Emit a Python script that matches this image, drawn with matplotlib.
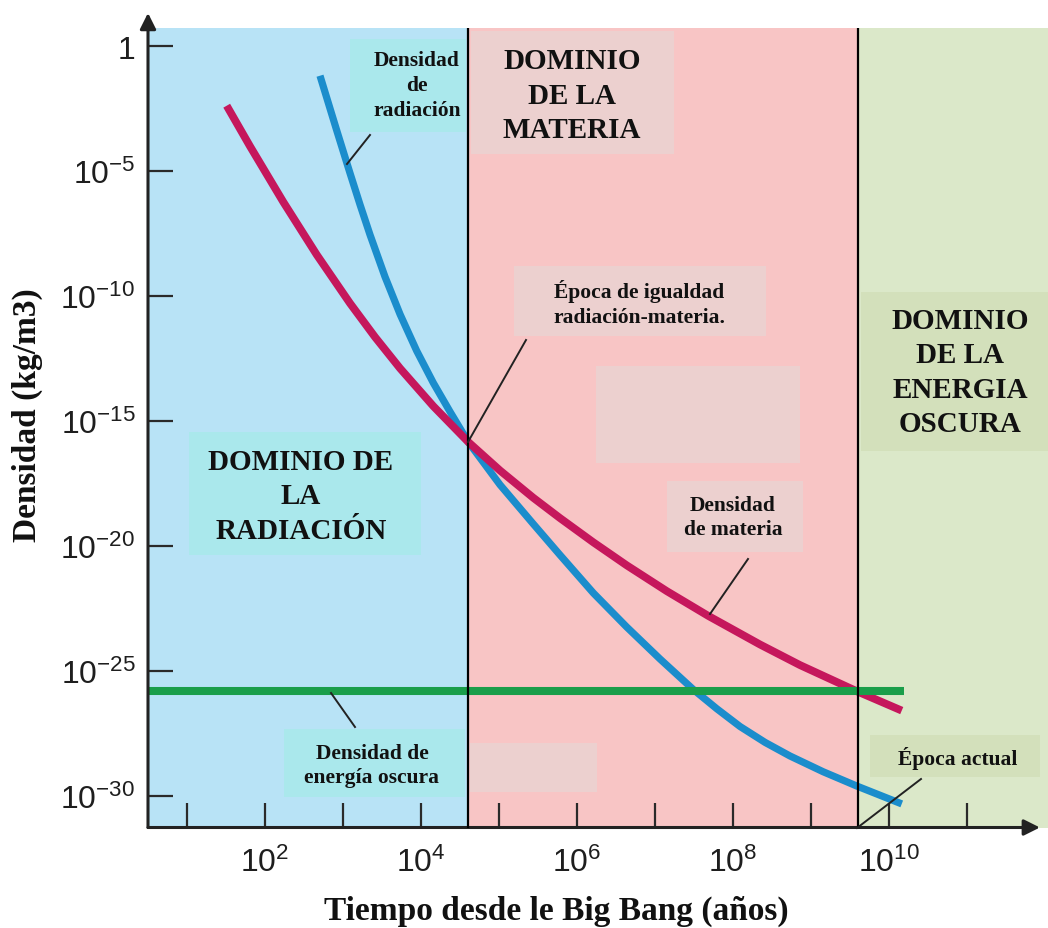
import numpy as np
import matplotlib
matplotlib.use("Agg")
import matplotlib.pyplot as plt
from matplotlib.patches import Rectangle
from matplotlib.lines import Line2D
from matplotlib.ticker import FixedLocator, FuncFormatter, NullLocator

plt.rcParams["font.family"] = "Liberation Sans"
plt.rcParams["mathtext.fontset"] = "custom"
plt.rcParams["mathtext.rm"] = "Liberation Sans"
plt.rcParams["mathtext.default"] = "regular"

# ---- data (log10 of time in years, log10 of density in kg/m3) ----
t_materia_exp = [1.513, 1.812, 2.238, 2.667, 3.094, 3.414, 3.735, 4.162, 4.610,
                 5.017, 5.444, 5.786, 6.213, 6.641, 7.154, 7.687, 8.350, 8.863,
                 9.590, 10.167]
rho_materia_exp = [-2.378, -4.003, -6.229, -8.343, -10.288, -11.637, -12.890,
                   -14.407, -15.841, -16.982, -18.075, -18.887, -19.856, -20.777,
                   -21.809, -22.802, -23.947, -24.772, -25.817, -26.593]

t_radiacion_exp = [2.709, 2.923, 3.094, 3.222, 3.350, 3.542, 3.735, 3.949, 4.162,
                   4.376, 4.610, 5.017, 5.444, 5.786, 6.213, 6.641, 7.068, 7.495,
                   7.795, 8.094, 8.415, 8.735, 9.158, 9.590, 10.167]
rho_radiacion_exp = [-1.177, -3.363, -5.080, -6.337, -7.542, -9.223, -10.725,
                     -12.194, -13.475, -14.628, -15.841, -17.554, -19.123, -20.364,
                     -21.885, -23.247, -24.527, -25.749, -26.517, -27.230, -27.866,
                     -28.411, -29.039, -29.612, -30.328]

rho_oscura_exp = -25.817        # constant dark-energy density
t_oscura_fin_exp = 10.19        # end of the dark-energy line

t_igualdad = 4.0e4              # radiation-matter equality (years)
t_dominio_oscura = 4.0e9        # start of dark-energy domination (years)

x_tick_exp = list(range(1, 12))
x_label_exp = [2, 4, 6, 8, 10]
y_tick_exp = [0, -5, -10, -15, -20, -25, -30]

x_lim_exp = (0.504, 12.042)
y_lim_exp = (-31.273, 0.733)

# ---- figure ----
W, H = 1048, 929
fig = plt.figure(figsize=(W / 100, H / 100), dpi=100)
ax = fig.add_axes([148 / W, 1 - 828.5 / H, 900 / W, 799.5 / H])
ax.set_xscale("log")
ax.set_yscale("log")

xmin, xmax = 10 ** x_lim_exp[0], 10 ** x_lim_exp[1]
ymin, ymax = 10 ** y_lim_exp[0], 10 ** y_lim_exp[1]

# era backgrounds
ax.axvspan(xmin, t_igualdad, color="#b8e3f6", lw=0, zorder=0)
ax.axvspan(t_igualdad, t_dominio_oscura, color="#f8c5c5", lw=0, zorder=0)
ax.axvspan(t_dominio_oscura, xmax, color="#dbe8c9", lw=0, zorder=0)


def fx(x):
    return x / W


def fy(y):
    return 1 - y / H


# label backgrounds (pixel boxes: x0, y0, x1, y1)
boxes = [
    ((350, 40, 466, 133), "#aae8ec"),
    ((471, 32, 674, 155), "#ecd0cf"),
    ((514, 267, 766, 337), "#ecd0cf"),
    ((596, 367, 800, 464), "#ecd0cf"),
    ((861, 293, 1048, 452), "#d3e0bb"),
    ((189, 433, 421, 556), "#aae8ec"),
    ((667, 482, 803, 553), "#ecd0cf"),
    ((284, 730, 465, 798), "#aae8ec"),
    ((470, 744, 597, 793), "#ecd0cf"),
    ((870, 736, 1040, 778), "#d3e0bb"),
]
for (x0, y0, x1, y1), c in boxes:
    ax.add_patch(Rectangle((fx(x0), fy(y1)), (x1 - x0) / W, (y1 - y0) / H,
                           transform=fig.transFigure, facecolor=c, lw=0, zorder=1))

# density curves
t_m = np.power(10.0, t_materia_exp)
r_m = np.power(10.0, rho_materia_exp)
t_r = np.power(10.0, t_radiacion_exp)
r_r = np.power(10.0, rho_radiacion_exp)
ax.plot(t_r, r_r, color="#1b8dcc", lw=5.2, solid_capstyle="butt",
        solid_joinstyle="round", zorder=3)
ax.plot(t_m, r_m, color="#c5175c", lw=5.6, solid_capstyle="butt",
        solid_joinstyle="round", zorder=3)
ax.plot([xmin, 10 ** t_oscura_fin_exp], [10 ** rho_oscura_exp] * 2,
        color="#1a9e4a", lw=5.8, solid_capstyle="butt", zorder=3)

# era boundaries
ax.axvline(t_igualdad, color="black", lw=1.6, zorder=4)
ax.axvline(t_dominio_oscura, color="black", lw=1.6, zorder=4)

# axes, ticks
for s in ax.spines.values():
    s.set_visible(False)
ax.xaxis.set_major_locator(FixedLocator([10.0 ** e for e in x_tick_exp]))
ax.xaxis.set_minor_locator(NullLocator())
ax.yaxis.set_major_locator(FixedLocator([10.0 ** e for e in y_tick_exp]))
ax.yaxis.set_minor_locator(NullLocator())


def xfmt(v, pos):
    e = int(round(np.log10(v)))
    return r"$10^{%d}$" % e if e in x_label_exp else ""


def yfmt(v, pos):
    e = int(round(np.log10(v)))
    return "1" if e == 0 else r"$10^{%d}$" % e


ax.xaxis.set_major_formatter(FuncFormatter(xfmt))
ax.yaxis.set_major_formatter(FuncFormatter(yfmt))
ax.tick_params(axis="both", direction="in", length=18, width=1.6,
               color="#2a2a2a", labelsize=23, labelcolor="#1e1e1e")
ax.tick_params(axis="x", pad=14)
ax.tick_params(axis="y", pad=9)

ax.annotate("", xy=(0, 1.0188), xytext=(0, 0), xycoords="axes fraction",
            arrowprops=dict(arrowstyle="-|>", color="#222222", lw=2.2,
                            mutation_scale=24, shrinkA=0, shrinkB=0),
            annotation_clip=False)
ax.annotate("", xy=(0.991, 0), xytext=(0, 0), xycoords="axes fraction",
            arrowprops=dict(arrowstyle="-|>", color="#222222", lw=2.2,
                            mutation_scale=24, shrinkA=0, shrinkB=0),
            annotation_clip=False)

ax.set_xlim(xmin, xmax)
ax.set_ylim(ymin, ymax)

# pointer lines
pointers = [
    ((370, 136), (347, 165)),
    ((526, 341), (468, 443)),
    ((748, 560), (710, 615)),
    ((331, 694), (355, 728)),
    ((857, 829), (921, 780)),
]
for (xa, ya), (xb, yb) in pointers:
    fig.add_artist(Line2D([fx(xa), fx(xb)], [fy(ya), fy(yb)],
                          transform=fig.transFigure, color="#222222", lw=1.4))

# annotations
serif = "Liberation Serif"
labels = [
    ("Densidad\nde\nradiación", 417, 86, 15.5, 1.36),
    ("DOMINIO\nDE LA\nMATERIA", 572, 96, 21, 1.37),
    ("Época de igualdad\nradiación-materia.", 639, 304, 15.5, 1.32),
    ("DOMINIO\nDE LA\nENERGIA\nOSCURA", 960, 373, 21, 1.35),
    ("DOMINIO DE\nLA\nRADIACIÓN", 301, 497, 21, 1.37),
    ("Densidad\nde materia", 733, 518, 15.5, 1.32),
    ("Densidad de\nenergía oscura", 372, 766, 15.5, 1.32),
    ("Época actual", 958, 759, 15.5, 1.2),
]
for s, x, y, size, ls in labels:
    fig.text(fx(x), fy(y), s, ha="center", va="center", ma="center",
             fontsize=size, fontweight="bold", family=serif, color="#111111",
             linespacing=ls)

fig.text(fx(556), fy(920), "Tiempo desde le Big Bang (años)", ha="center",
         va="baseline", fontsize=24, fontweight="bold", family=serif, color="#111111")
fig.text(fx(27), fy(415), "Densidad (kg/m3)", ha="center", va="center",
         rotation=90, fontsize=24, fontweight="bold", family=serif, color="#111111")

fig.savefig("out.png", dpi=100)
